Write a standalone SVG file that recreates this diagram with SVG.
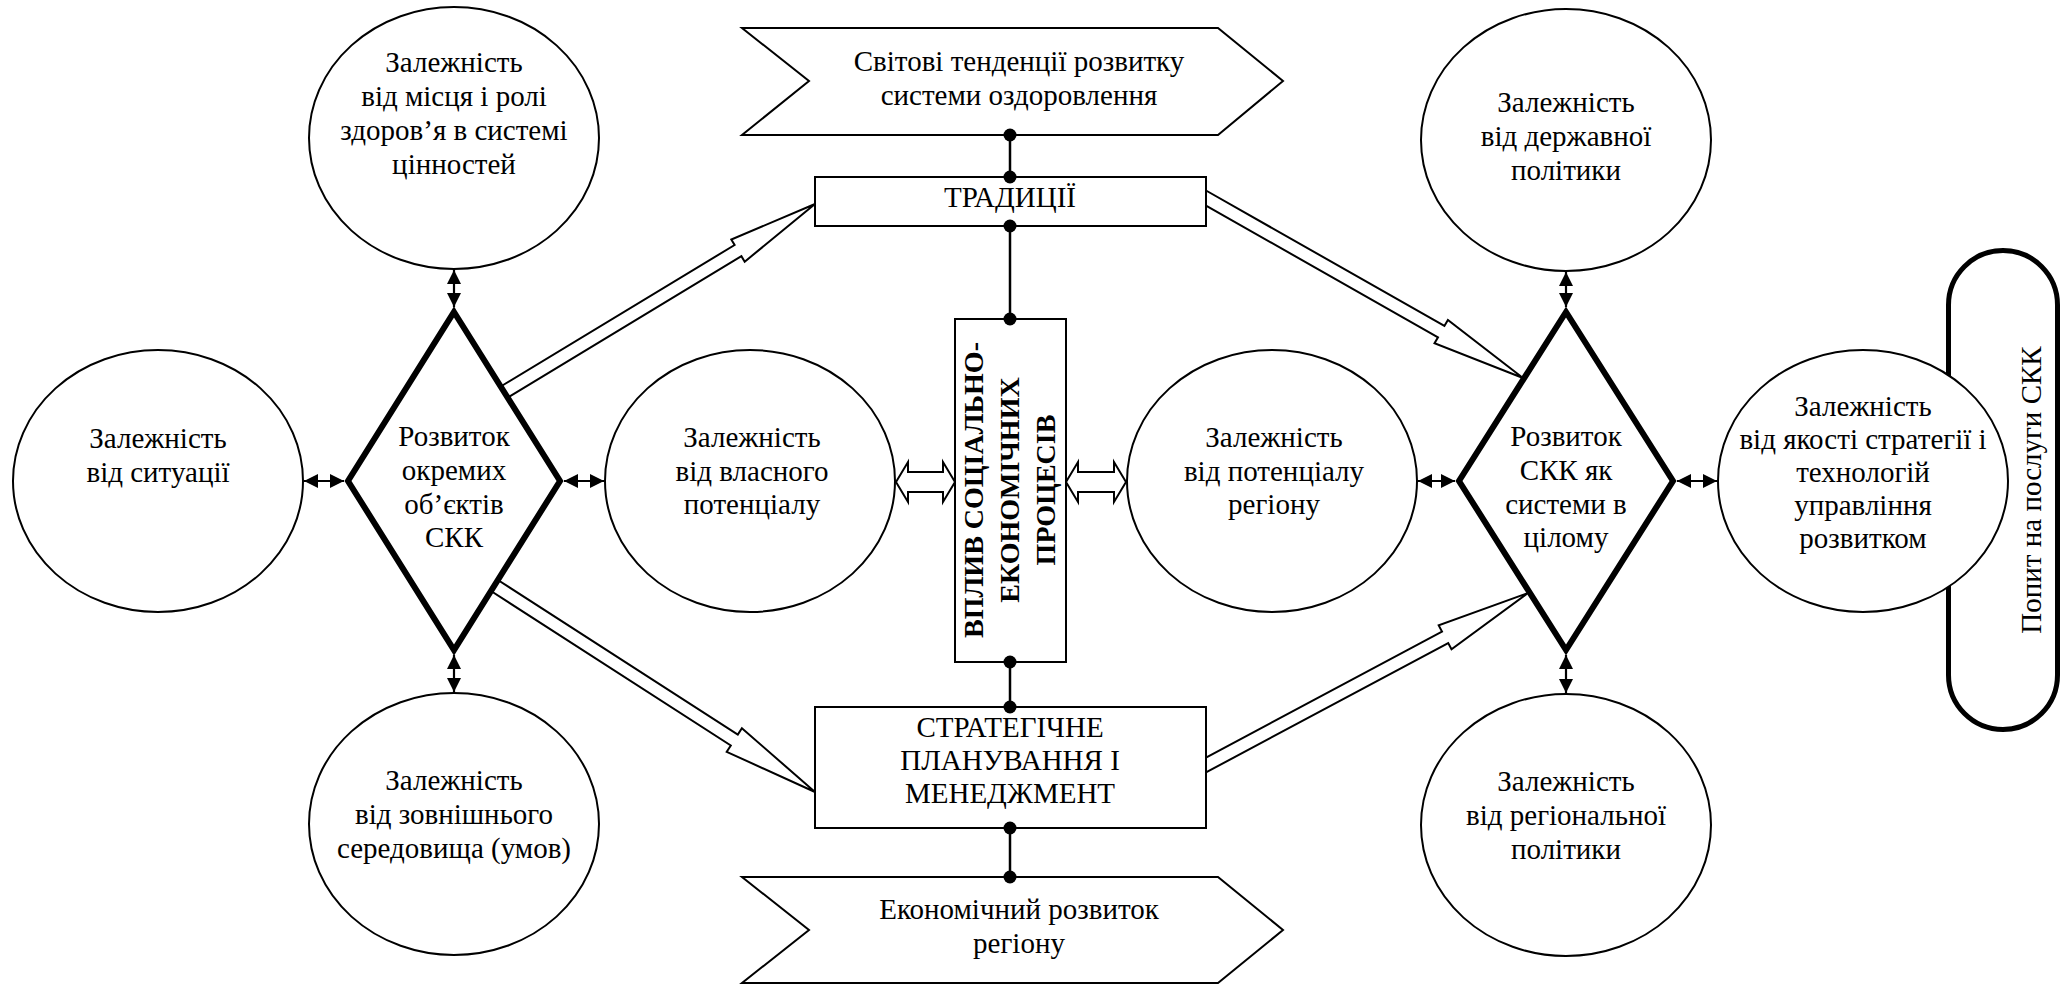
<svg xmlns="http://www.w3.org/2000/svg" width="2070" height="984" viewBox="0 0 2070 984">
  <style>
    .shape { fill: #fff; stroke: #000; stroke-width: 2; }
    .dia { fill: #fff; stroke: #000; stroke-width: 6; stroke-linejoin: miter; }
    .pill { fill: #fff; stroke: #000; stroke-width: 5; }
    .t { font-family: 'Liberation Serif', 'DejaVu Serif', serif; font-size: 29px; fill: #000; text-anchor: middle; }
    .b { font-weight: bold; font-size: 28px; }
    .link { fill: none; stroke: #000; stroke-width: 2.5; }
    .dbl { fill: none; stroke: #000; stroke-width: 2.2; marker-start: url(#head); marker-end: url(#head); }
    .hollow { fill: none; stroke: #000; stroke-width: 2; stroke-linejoin: miter; }
    .hollowh { fill: #fff; stroke: #000; stroke-width: 2; stroke-linejoin: miter; }
    .dotted { marker-start: url(#dot); marker-end: url(#dot); }
  </style>
  <defs>
    <marker id="head" markerUnits="userSpaceOnUse" markerWidth="14" markerHeight="14" refX="14" refY="7" orient="auto-start-reverse">
      <path d="M0,0 L14,7 L0,14 Z" fill="#000"/>
    </marker>
    <marker id="dot" markerUnits="userSpaceOnUse" markerWidth="14" markerHeight="14" refX="7" refY="7" orient="auto">
      <circle cx="7" cy="7" r="6.5" fill="#000"/>
    </marker>
  </defs>
  <rect width="2070" height="984" fill="#fff"/>

  <!-- demand pill, partly covered by the quality ellipse -->
  <g id="demand">
    <rect class="pill" x="1948.5" y="250.5" width="109" height="479" rx="54.5" ry="54.5"/>
    <text class="t" font-family="Liberation Serif, DejaVu Serif, serif" transform="translate(2041,490) rotate(-90)">Попит на послуги СКК</text>
  </g>

  <g id="world-trends" font-family="Liberation Serif, DejaVu Serif, serif">
    <polygon class="shape" points="742,28 1218,28 1283,81 1218,135 742,135 809,81"/>
    <text class="t" x="1019" y="71">Світові тенденції розвитку</text>
    <text class="t" x="1019" y="105">системи оздоровлення</text>
  </g>

  <g id="traditions">
    <rect class="shape" x="815" y="177" width="391" height="49"/>
    <text class="t" x="1010" y="207">ТРАДИЦІЇ</text>
  </g>

  <g id="socio-economic">
    <rect class="shape" x="955" y="319" width="111" height="343"/>
    <text class="t b" transform="translate(983,490) rotate(-90)">ВПЛИВ СОЦІАЛЬНО-</text>
    <text class="t b" transform="translate(1019,490) rotate(-90)">ЕКОНОМІЧНИХ</text>
    <text class="t b" transform="translate(1055,490) rotate(-90)">ПРОЦЕСІВ</text>
  </g>

  <g id="strategic-planning">
    <rect class="shape" x="815" y="707" width="391" height="121"/>
    <text class="t" x="1010" y="737">СТРАТЕГІЧНЕ</text>
    <text class="t" x="1010" y="770">ПЛАНУВАННЯ І</text>
    <text class="t" x="1010" y="803">МЕНЕДЖМЕНТ</text>
  </g>

  <g id="economic-development">
    <polygon class="shape" points="742,877 1218,877 1283,930 1218,983 742,983 809,930"/>
    <text class="t" x="1019" y="919">Економічний розвиток</text>
    <text class="t" x="1019" y="953">регіону</text>
  </g>

  <!-- left cluster -->
  <g id="dep-values">
    <ellipse class="shape" cx="454" cy="138" rx="145" ry="131"/>
    <text class="t" x="454" y="72">Залежність</text>
    <text class="t" x="454" y="106">від місця і ролі</text>
    <text class="t" x="454" y="140">здоров’я в системі</text>
    <text class="t" x="454" y="174">цінностей</text>
  </g>

  <g id="dep-situation">
    <ellipse class="shape" cx="158" cy="481" rx="145" ry="131"/>
    <text class="t" x="158" y="448">Залежність</text>
    <text class="t" x="158" y="482">від ситуації</text>
  </g>

  <g id="objects-development">
    <polygon class="dia" points="454,312 560,481 454,650 348,481"/>
    <text class="t" x="454" y="446">Розвиток</text>
    <text class="t" x="454" y="480">окремих</text>
    <text class="t" x="454" y="514">об’єктів</text>
    <text class="t" x="454" y="547">СКК</text>
  </g>

  <g id="dep-own-potential">
    <ellipse class="shape" cx="750" cy="481" rx="145" ry="131"/>
    <text class="t" x="752" y="447">Залежність</text>
    <text class="t" x="752" y="481">від власного</text>
    <text class="t" x="752" y="514">потенціалу</text>
  </g>

  <g id="dep-environment">
    <ellipse class="shape" cx="454" cy="824" rx="145" ry="131"/>
    <text class="t" x="454" y="790">Залежність</text>
    <text class="t" x="454" y="824">від зовнішнього</text>
    <text class="t" x="454" y="858">середовища (умов)</text>
  </g>

  <!-- right cluster -->
  <g id="dep-region-potential">
    <ellipse class="shape" cx="1272" cy="481" rx="145" ry="131"/>
    <text class="t" x="1274" y="447">Залежність</text>
    <text class="t" x="1274" y="481">від потенціалу</text>
    <text class="t" x="1274" y="514">регіону</text>
  </g>

  <g id="dep-state-policy">
    <ellipse class="shape" cx="1566" cy="140" rx="145" ry="131"/>
    <text class="t" x="1566" y="112">Залежність</text>
    <text class="t" x="1566" y="146">від державної</text>
    <text class="t" x="1566" y="180">політики</text>
  </g>

  <g id="system-development">
    <polygon class="dia" points="1566,312 1673,481 1566,650 1459,481"/>
    <text class="t" x="1566" y="446">Розвиток</text>
    <text class="t" x="1566" y="480">СКК як</text>
    <text class="t" x="1566" y="514">системи в</text>
    <text class="t" x="1566" y="547">цілому</text>
  </g>

  <g id="dep-regional-policy">
    <ellipse class="shape" cx="1566" cy="825" rx="145" ry="131"/>
    <text class="t" x="1566" y="791">Залежність</text>
    <text class="t" x="1566" y="825">від регіональної</text>
    <text class="t" x="1566" y="859">політики</text>
  </g>

  <g id="dep-strategy-quality">
    <ellipse class="shape" cx="1863" cy="481" rx="145" ry="131"/>
    <text class="t" x="1863" y="416">Залежність</text>
    <text class="t" x="1863" y="449">від якості стратегії і</text>
    <text class="t" x="1863" y="482">технологій</text>
    <text class="t" x="1863" y="515">управління</text>
    <text class="t" x="1863" y="548">розвитком</text>
  </g>

  <g id="connectors">
    <!-- central spine with dot ends -->
    <line class="link dotted" x1="1010" y1="135" x2="1010" y2="177"/>
    <line class="link dotted" x1="1010" y1="226" x2="1010" y2="319"/>
    <line class="link dotted" x1="1010" y1="662" x2="1010" y2="707"/>
    <line class="link dotted" x1="1010" y1="828" x2="1010" y2="877"/>

    <!-- open block arrows between diamonds and central boxes -->
    <path class="hollow" d="M500.7,386.5 L734.6,245.0 L731.3,239.5 L815,204 L744.7,261.7 L741.4,256.2 L507.7,397.6"/>
    <path class="hollow" d="M1206,190.5 L1444.4,325.9 L1447.9,319.9 L1523,378 L1434.5,343.3 L1438.0,337.3 L1206,205.6"/>
    <path class="hollow" d="M497.9,580.0 L737.8,734.5 L741.9,728.2 L815,792 L726.7,751.8 L730.8,745.5 L491.0,591.0"/>
    <path class="hollow" d="M1206,757.6 L1442.0,631.6 L1438.7,625.4 L1528,593 L1451.5,649.2 L1448.2,643.0 L1206,772.4"/>

    <!-- two-way block arrows around the central box -->
    <polygon class="hollowh" points="896,482 908,462 908,472 943,472 943,462 955,482 943,502 943,492 908,492 908,502"/>
    <polygon class="hollowh" points="1066,482 1078,462 1078,472 1114,472 1114,462 1126,482 1114,502 1114,492 1078,492 1078,502"/>

    <!-- two-way arrows around the left diamond -->
    <line class="dbl" x1="454" y1="270" x2="454" y2="307"/>
    <line class="dbl" x1="304" y1="481" x2="344" y2="481"/>
    <line class="dbl" x1="564" y1="481" x2="604" y2="481"/>
    <line class="dbl" x1="454" y1="655" x2="454" y2="692"/>

    <!-- two-way arrows around the right diamond -->
    <line class="dbl" x1="1566" y1="272" x2="1566" y2="307"/>
    <line class="dbl" x1="1418" y1="481" x2="1455" y2="481"/>
    <line class="dbl" x1="1677" y1="481" x2="1717" y2="481"/>
    <line class="dbl" x1="1566" y1="655" x2="1566" y2="693"/>
  </g>
</svg>
